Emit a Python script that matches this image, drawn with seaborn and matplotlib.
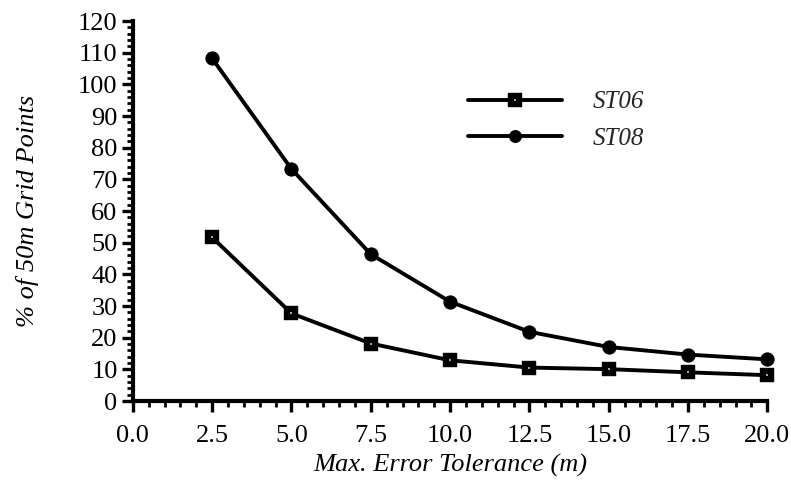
import matplotlib
matplotlib.use("Agg")
import matplotlib.pyplot as plt
from matplotlib.ticker import MultipleLocator, FormatStrFormatter
import seaborn as sns
import pandas as pd

tolerance = [2.5, 5.0, 7.5, 10.0, 12.5, 15.0, 17.5, 20.0]
st06 = [51.7, 27.7, 18.2, 12.9, 10.6, 10.1, 9.1, 8.2]
st08 = [108.2, 73.3, 46.4, 31.4, 21.9, 17.1, 14.7, 13.2]
series_names = ["ST06", "ST08"]

df = pd.DataFrame({
    "tol": tolerance * 2,
    "pct": st06 + st08,
    "station": [series_names[0]] * len(st06) + [series_names[1]] * len(st08),
})

sns.set_theme(style="white")
plt.rcParams["font.family"] = ["Liberation Serif", "DejaVu Serif"]

fig = plt.figure(figsize=(7.91, 4.91), dpi=100)
ax = fig.add_axes([0.168, 0.183, 0.802, 0.774])

sns.lineplot(data=df[df.station == "ST06"], x="tol", y="pct", ax=ax,
             color="black", linewidth=2.8, marker="s", markersize=6.4,
             markerfacecolor="white", markeredgecolor="black",
             markeredgewidth=4.6, label="ST06")
sns.lineplot(data=df[df.station == "ST08"], x="tol", y="pct", ax=ax,
             color="black", linewidth=2.8, marker="o", markersize=9.5,
             markerfacecolor="black", markeredgecolor="black", label="ST08")

ax.set_xlim(0, 20)
ax.set_ylim(0, 120)
ax.xaxis.set_major_locator(MultipleLocator(2.5))
ax.xaxis.set_minor_locator(MultipleLocator(0.5))
ax.yaxis.set_major_locator(MultipleLocator(10))
ax.yaxis.set_minor_locator(MultipleLocator(2))
ax.xaxis.set_major_formatter(FormatStrFormatter("%.1f"))

for s in ["top", "right"]:
    ax.spines[s].set_visible(False)
for s in ["left", "bottom"]:
    ax.spines[s].set_color("black")
    ax.spines[s].set_linewidth(3)

ax.tick_params(axis="both", which="major", direction="out", length=8,
               width=2.4, color="black", labelsize=19, labelcolor="black",
               bottom=True, left=True, pad=3)
ax.tick_params(axis="both", which="minor", direction="out", length=4.5,
               width=2, color="black", bottom=True, left=True)
ax.tick_params(axis="x", which="major", pad=9)

ax.set_xlabel("Max. Error Tolerance (m)", fontsize=19, style="italic",
              labelpad=5, color="black")
ax.set_ylabel("% of 50m Grid Points", fontsize=19, style="italic",
              labelpad=28, color="black")
ax.grid(False)
for line in ax.lines:
    line.set_clip_on(False)

leg = ax.legend(loc="center left", bbox_to_anchor=(0.528, 0.739), frameon=False,
                handlelength=3.75, handletextpad=1.25, labelspacing=0.55,
                borderaxespad=0, borderpad=0,
                prop={"style": "italic", "size": 18})
for h in leg.legend_handles:
    h.set_markersize(h.get_markersize() * 0.9)

fig.savefig("out.png", dpi=100, facecolor="white")
